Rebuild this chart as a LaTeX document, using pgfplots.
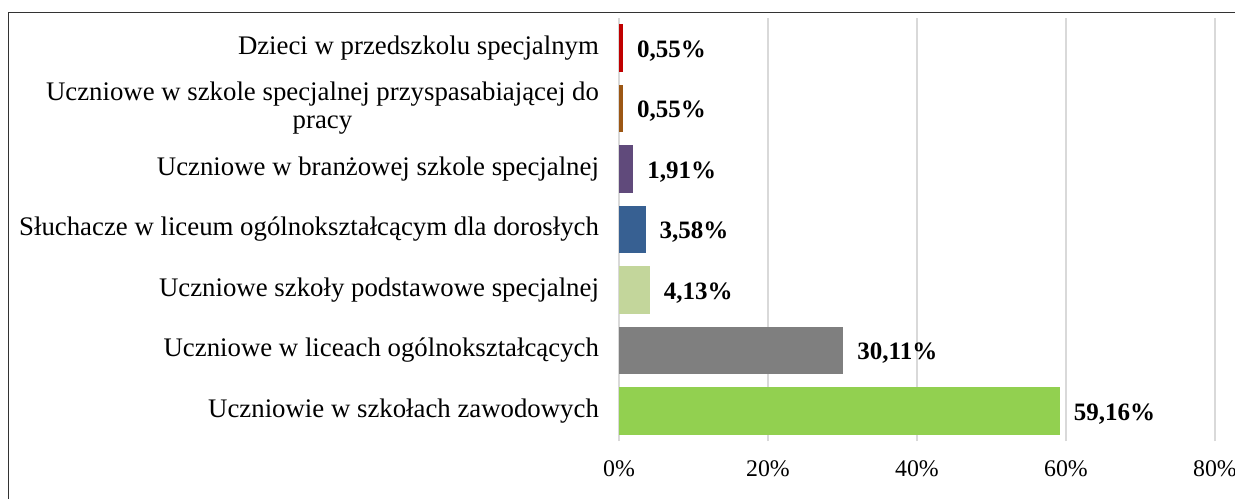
\documentclass[border=0pt]{standalone}
\usepackage{pgfplots}
\pgfplotsset{compat=1.18}
\usepackage{fontspec}
\setmainfont{Liberation Serif}
\definecolor{cRed}{HTML}{C00000}
\definecolor{cBrown}{HTML}{9C5714}
\definecolor{cPurple}{HTML}{604A7B}
\definecolor{cBlue}{HTML}{376092}
\definecolor{cLgreen}{HTML}{C3D69B}
\definecolor{cGray}{HTML}{7F7F7F}
\definecolor{cGreen}{HTML}{92D050}
\begin{document}
\begin{tikzpicture}
\begin{axis}[
  at={(0,0)}, anchor=south west,
  scale only axis, width=298pt, height=211.75pt,
  xmin=0, xmax=80, ymin=-0.5, ymax=6.5,
  xbar, bar width=0.79, bar shift=0pt,
  axis line style={draw=none},
  major tick length=0pt,
  xmajorgrids, grid style={draw=black!15, line width=0.75pt},
  xtick={0,20,40,60,80},
  xticklabel={\pgfmathprintnumber[assume math mode=true]{\tick}\%},
  xticklabel style={font=\fontsize{11.9}{14}\selectfont, text=black, yshift=-6pt},
  ytick={0,...,6},
  yticklabels={Uczniowie w szkołach zawodowych, Uczniowe w liceach ogólnokształcących, Uczniowe szkoły podstawowe specjalnej, Słuchacze w liceum ogólnokształcącym dla dorosłych, Uczniowe w branżowej szkole specjalnej, {Uczniowe w szkole specjalnej przyspasabiającej do\\pracy}, Dzieci w przedszkolu specjalnym},
  yticklabel style={font=\fontsize{13.4}{14}\selectfont, align=center, text=black, xshift=-6.5pt},
  point meta=x,
  nodes near coords={\pgfmathprintnumber[use comma,fixed,fixed zerofill,precision=2,assume math mode=true]{\pgfplotspointmeta}\%},
  nodes near coords style={font=\bfseries\fontsize{12.5}{14}\selectfont, anchor=west, xshift=3.5pt, yshift=-1.5pt, text=black},
]
\addplot[fill=cGreen, draw=none] coordinates {(59.16,0)};
\addplot[fill=cGray, draw=none] coordinates {(30.11,1)};
\addplot[fill=cLgreen, draw=none] coordinates {(4.13,2)};
\addplot[fill=cBlue, draw=none] coordinates {(3.58,3)};
\addplot[fill=cPurple, draw=none] coordinates {(1.91,4)};
\addplot[fill=cBrown, draw=none] coordinates {(0.55,5)};
\addplot[fill=cRed, draw=none] coordinates {(0.55,6)};
\end{axis}
\draw[line width=0.75pt, black!80] (-305.25pt,-40pt) -- (-305.25pt,214.4pt) -- (320pt,214.4pt);
\pgfresetboundingbox
\path[use as bounding box] (-309.5pt,-28.4pt) rectangle (308pt,220.6pt);
\end{tikzpicture}
\end{document}
